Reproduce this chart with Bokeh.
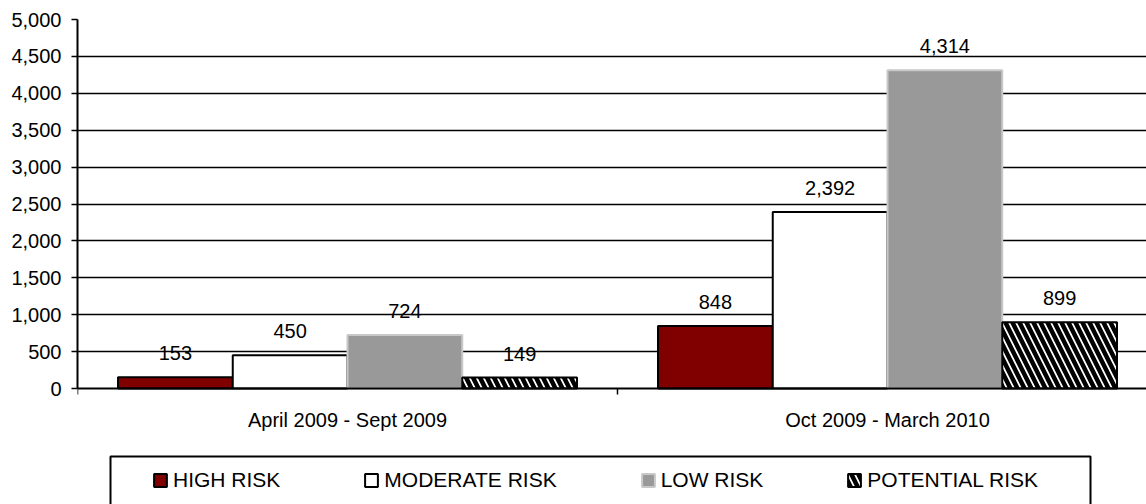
from bokeh.plotting import figure
from bokeh.models import (ColumnDataSource, FixedTicker, NumeralTickFormatter, Legend,
                          LegendItem, Range1d, LinearAxis, Grid, BoxAnnotation)
from bokeh.core.properties import value
from bokeh.embed import file_html
from bokeh.resources import INLINE

# ---- data ----
periods = ["April 2009 - Sept 2009", "Oct 2009 - March 2010"]
series_names = ["HIGH RISK", "MODERATE RISK", "LOW RISK", "POTENTIAL RISK"]
high_risk = [153, 848]
moderate_risk = [450, 2392]
low_risk = [724, 4314]
potential_risk = [149, 899]
y_ticks = [0, 500, 1000, 1500, 2000, 2500, 3000, 3500, 4000, 4500, 5000]

series_values = [high_risk, moderate_risk, low_risk, potential_risk]

# ---- layout / styling ----
W, H = 1146, 504
LEFT, TOP, ZERO_Y = 77, 19, 388          # pixel positions of frame left, 5000 line, 0 line
CAT_PX = 540                              # pixels per category
FONT = "Liberation Sans"
FS = "20px"
LEGEND_FS = "21px"
BAR_W = 0.2125
Y_MAX = y_ticks[-1]
y_start = -Y_MAX * (H - ZERO_Y) / (ZERO_Y - TOP)

styles = [
    dict(fill_color="#800000", line_color="black"),
    dict(fill_color="white", line_color="black"),
    dict(fill_color="#999999", line_color="#c8c8c8"),
    dict(fill_color="white", line_color="black", hatch_pattern="left_diagonal_line",
         hatch_color="black", hatch_scale=14, hatch_weight=4.5),
]

p = figure(width=W, height=H, x_range=Range1d(0, (W - LEFT) / CAT_PX),
           y_range=Range1d(y_start, Y_MAX),
           output_backend="svg", toolbar_location=None, x_axis_location=None,
           min_border_left=LEFT, min_border_right=0, min_border_top=TOP, min_border_bottom=0)
p.background_fill_color = "white"
p.border_fill_color = "white"
p.outline_line_color = None

# y axis
p.yaxis.ticker = FixedTicker(ticks=y_ticks)
p.yaxis.bounds = (0, Y_MAX)
p.yaxis.formatter = NumeralTickFormatter(format="0,0")
p.yaxis.axis_line_color = "black"
p.yaxis.axis_line_width = 2
p.yaxis.major_tick_line_color = "black"
p.yaxis.major_tick_line_width = 1.5
p.yaxis.major_tick_out = 6
p.yaxis.major_tick_in = 0
p.yaxis.minor_tick_line_color = None
p.yaxis.major_label_standoff = 10
p.yaxis.major_label_text_font = FONT
p.yaxis.major_label_text_font_size = FS
p.yaxis.major_label_text_color = "black"

# x axis (category axis sitting on the value 0)
centers = [i + 0.5 for i in range(len(periods))]
bounds = [float(i) for i in range(len(periods) + 1)]
xaxis = LinearAxis(fixed_location=0,
                   ticker=FixedTicker(ticks=centers, minor_ticks=bounds),
                   major_label_overrides={c: lab for c, lab in zip(centers, periods)},
                   axis_line_color="black", axis_line_width=2,
                   major_tick_line_color=None, major_tick_out=0, major_tick_in=0,
                   minor_tick_line_color="black", minor_tick_line_width=1.5,
                   minor_tick_out=6, minor_tick_in=0,
                   major_label_standoff=14, major_label_text_font=FONT,
                   major_label_text_font_size=FS, major_label_text_color="black")
p.add_layout(xaxis, "below")

# grid
p.xgrid.grid_line_color = None
p.xgrid.visible = False
p.ygrid.ticker = FixedTicker(ticks=y_ticks[1:-1])
p.ygrid.grid_line_color = "black"
p.ygrid.grid_line_width = 1.5
top_line = Grid(dimension=1, ticker=FixedTicker(ticks=[Y_MAX]),
                grid_line_color="#c0c0c0", grid_line_width=1)
p.add_layout(top_line)

# bars + labels
items = []
for i, (name, vals, st) in enumerate(zip(series_names, series_values, styles)):
    xs = [c + (i - 1.5) * BAR_W for c in centers]
    src = ColumnDataSource(dict(x=xs, top=vals, label=[f"{v:,}" for v in vals]))
    r = p.vbar(x="x", top="top", bottom=0, width=BAR_W, line_width=2, source=src, **st)
    p.text(x="x", y="top", text="label", source=src, y_offset=-24,
           text_align="center", text_baseline="middle",
           text_font=value(FONT), text_font_size=FS, text_color="black")
    items.append(LegendItem(label=name, renderers=[r]))

# legend frame
legend_box = BoxAnnotation(left=110, right=1090, top=456, bottom=H + 10,
                           left_units="canvas", right_units="canvas",
                           top_units="canvas", bottom_units="canvas",
                           fill_color=None, fill_alpha=0,
                           line_color="black", line_width=2, line_alpha=1)
p.add_layout(legend_box)

legend = Legend(items=items, orientation="horizontal", location=(75, 12),
                spacing=83, padding=0, margin=0, glyph_width=16, glyph_height=16,
                label_standoff=5, label_height=24,
                label_text_font=FONT, label_text_font_size=LEGEND_FS, label_text_color="black",
                border_line_color=None, background_fill_alpha=0)
p.add_layout(legend)

open("out.html", "w").write(file_html(p, INLINE))
